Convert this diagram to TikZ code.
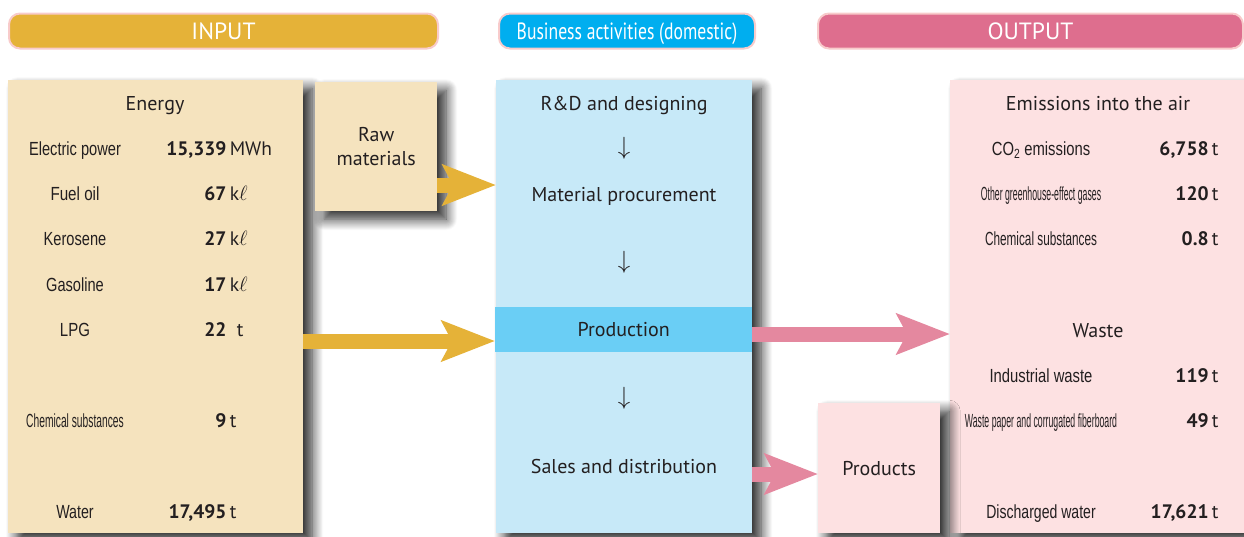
\documentclass[tikz,border=0pt]{standalone}
\usepackage{fontspec}
\usepackage{graphicx}
\setmainfont{PT Sans}
\newfontfamily\condfont{Liberation Sans}
\usetikzlibrary{positioning,calc,arrows.meta,shadows.blur}

\definecolor{gold}{HTML}{E5B238}
\definecolor{cyanhead}{HTML}{00AEEF}
\definecolor{pinkhead}{HTML}{DE6E8E}
\definecolor{headrim}{HTML}{F8CBCB}
\definecolor{inbg}{HTML}{F5E3BE}
\definecolor{midbg}{HTML}{C7E9F8}
\definecolor{prodbg}{HTML}{6ACEF5}
\definecolor{outbg}{HTML}{FDE1E2}
\definecolor{pinkarrow}{HTML}{E4889F}
\definecolor{ink}{HTML}{231F20}

\newcommand{\cnd}[2][0.77]{\scalebox{#1}[1]{#2}}

\begin{document}
\begin{tikzpicture}[x=1pt,y=-1pt,
    header/.style={draw=headrim, line width=2pt, rounded corners=11pt, minimum height=35pt, text height=18pt, text depth=2pt, text=white, font=\fontsize{23.5}{23.5}\selectfont, anchor=west},
    panel/.style={anchor=north west, inner sep=0pt, text=ink, font=\fontsize{20}{24}\selectfont, blur shadow={shadow xshift=9pt, shadow yshift=-8pt, shadow blur radius=11pt, shadow blur steps=12, shadow opacity=85}},
    headtext/.style={text=ink, font=\fontsize{20}{20}\selectfont, anchor=base},
    item/.style={text=ink, font=\condfont\fontsize{19}{19}\selectfont, anchor=base},
    amount/.style={text=ink, font=\fontsize{19.5}{19.5}\selectfont},
    fat/.style={line width=15pt, -{Stealth[length=53pt, width=40pt, inset=10pt]}},
    downmark/.style={text=ink, font=\fontsize{29}{29}\selectfont}
]
    \useasboundingbox (0,0) rectangle (1244,536);

    \node[header, fill=gold, minimum width=429pt] (inhead) at (8,31) {INPUT};
    \node[header, fill=cyanhead, minimum width=256pt] (midhead) at (498,31) {\scalebox{0.75}[1]{Business activities (domestic)}};
    \node[header, fill=pinkhead, minimum width=425pt] (outhead) at (817,31) {OUTPUT};

    \node[panel, fill=inbg, minimum width=295pt, minimum height=453pt] (energy) at (8,80) {};
    \node[panel, fill=inbg, minimum width=122pt, minimum height=129pt, align=center] (raw) at (315,82) {Raw\\materials};
    \node[panel, fill=midbg, minimum width=256pt, minimum height=453pt] (mid) at (496,80) {};
    \node[panel, fill=outbg, minimum width=300pt, minimum height=453pt] (out) at (950,80) {};
    \node[panel, fill=outbg, minimum width=122pt, minimum height=130pt] (products) at (818,403) {Products};
    \node[anchor=north west, inner sep=0pt, fill=prodbg, minimum width=257pt, minimum height=45pt, text=ink, font=\fontsize{20}{20}\selectfont] (prod) at (495,307) {Production};

    \node[headtext] (energyhd) at (155,110) {Energy};
    \node[headtext] (airhd) at (1098,110) {Emissions into the air};
    \node[headtext] (wastehd) at (1098,337) {Waste};
    \node[headtext] (rnd) at (624,110) {R\&D and designing};
    \node[headtext] (procure) at (624,201) {Material procurement};
    \node[headtext] (sales) at (624,473) {Sales and distribution};
    \node[downmark] (down1) at (624,148) {$\downarrow$};
    \node[downmark] (down2) at (624,262) {$\downarrow$};
    \node[downmark] (down3) at (624,398) {$\downarrow$};

    \foreach \lab/\val/\unit/\y/\sc [count=\i] in {
        Electric power/{15,339}/MWh/155/0.77, Fuel oil/67/k$\ell$/200/0.80,
        Kerosene/27/k$\ell$/245/0.77, Gasoline/17/k$\ell$/291/0.77,
        LPG/22/\hspace{7pt}t/336/0.79, Chemical substances/9/t/427/0.54,
        Water/{17,495}/t/518/0.75} {
        \node[item] (inlab\i) at (75,\y) {\cnd[\sc]{\lab}};
        \node[amount, anchor=base west] (inval\i) at (223,\y) {\llap{\bfseries\val}\,\unit};
    }

    \foreach \lab/\val/\y/\sc [count=\i] in {
        CO\textsubscript{2} emissions/{6,758}/155/0.78, Other greenhouse-effect gases/120/200/0.46,
        Chemical substances/0.8/245/0.62, Industrial waste/119/382/0.78,
        Waste paper and corrugated fiberboard/49/427/0.46, Discharged water/{17,621}/518/0.74} {
        \node[item] (outlab\i) at (1041,\y) {\cnd[\sc]{\lab}};
        \node[amount, anchor=base east] (outval\i) at (1222,\y) {{\bfseries\val}\,t};
    }

    \coordinate (rawlvl) at (0,185);
    \coordinate (enlvl) at (0,341);
    \coordinate (prodlvl) at (0,334);
    \coordinate (salelvl) at (0,474);
    \draw[fat, gold] (raw.east |- rawlvl) -- (mid.west |- rawlvl);
    \draw[fat, gold] (energy.east |- enlvl) -- (prod.west |- enlvl);
    \draw[fat, pinkarrow] (prod.east |- prodlvl) -- (out.west |- prodlvl);
    \draw[fat, pinkarrow] (mid.east |- salelvl) -- (products.west |- salelvl);
\end{tikzpicture}
\end{document}
